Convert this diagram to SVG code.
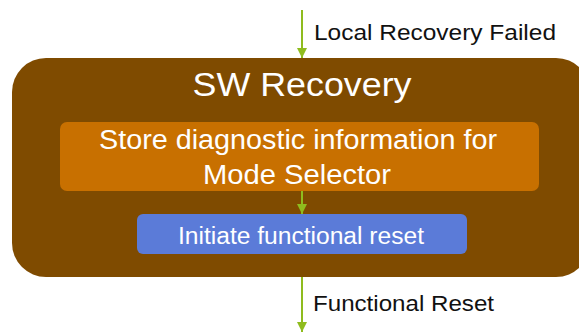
<svg xmlns="http://www.w3.org/2000/svg" width="579" height="334" viewBox="0 0 579 334">
<defs>
<style>
text{font-family:"Liberation Sans",Arial,sans-serif}
.lbl{fill:#111;font-size:22px}
.w{fill:#fff;text-anchor:middle}
.c{stroke:#8fbc1e;stroke-width:2;fill:none}
</style>
<marker id="ah" viewBox="0 0 10 10" refX="10" refY="5" markerWidth="10" markerHeight="10" markerUnits="userSpaceOnUse" orient="auto">
<path d="M0,0 L10,5 L0,10 Z" fill="#8fbc1e"/>
</marker>
</defs>
<g id="sw-recovery">
<rect x="12" y="58" width="578" height="219" rx="34" fill="#7f4b00"/>
<text class="w" x="302" y="96" font-size="34" textLength="219" lengthAdjust="spacingAndGlyphs">SW Recovery</text>
</g>
<g id="store-diag">
<rect x="60" y="122" width="479" height="69" rx="7" fill="#c87000"/>
<text class="w" x="298" y="149" font-size="27" textLength="398" lengthAdjust="spacingAndGlyphs">Store diagnostic information for</text>
<text class="w" x="297" y="184" font-size="27" textLength="188" lengthAdjust="spacingAndGlyphs">Mode Selector</text>
</g>
<g id="initiate-reset">
<rect x="137" y="214" width="330" height="40" rx="6" fill="#5b7bd8"/>
<text class="w" x="301" y="244" font-size="23" textLength="246" lengthAdjust="spacingAndGlyphs">Initiate functional reset</text>
</g>
<g id="connectors">
<line class="c" x1="302" y1="10" x2="302" y2="58" marker-end="url(#ah)"/>
<line class="c" x1="302" y1="191" x2="302" y2="214" marker-end="url(#ah)"/>
<line class="c" x1="302" y1="277" x2="302" y2="332" marker-end="url(#ah)"/>
<text class="lbl" x="314" y="40" textLength="242" lengthAdjust="spacingAndGlyphs">Local Recovery Failed</text>
<text class="lbl" x="313" y="311" textLength="181" lengthAdjust="spacingAndGlyphs">Functional Reset</text>
</g>
</svg>
